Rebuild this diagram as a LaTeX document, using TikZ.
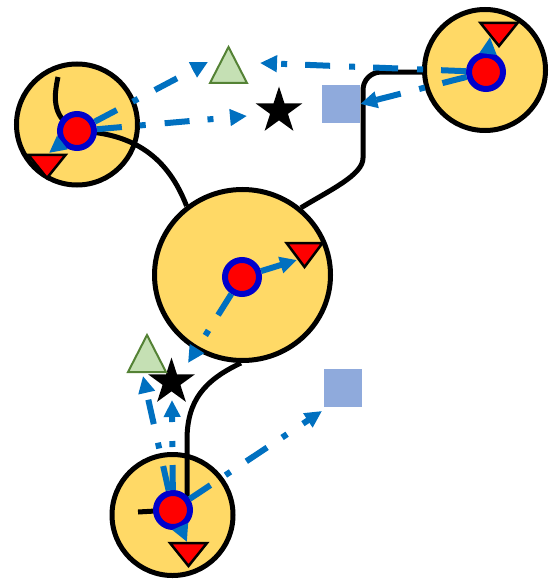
\documentclass[tikz,border=0pt]{standalone}
\usetikzlibrary{arrows.meta,shapes.geometric}
\definecolor{hubfill}{HTML}{FFD966}
\definecolor{linkblue}{HTML}{0070C0}
\definecolor{ringblue}{HTML}{0000CC}
\definecolor{boxblue}{HTML}{8FAADC}
\definecolor{leaffill}{HTML}{C5E0B4}
\definecolor{leafline}{HTML}{548235}
\begin{document}
\begin{tikzpicture}[x=1pt,y=-1pt,
  hub/.style={circle, draw=black, fill=hubfill, line width=5pt, inner sep=0pt, minimum size=121pt},
  core/.style={circle, draw=ringblue, fill=red, line width=6pt, inner sep=0pt, minimum size=34pt},
  wire/.style={draw=black, line width=5pt},
  link/.style={draw=linkblue, line width=6pt, -{Triangle[length=17pt,width=16pt]}},
  dashdot/.style={dash pattern=on 25pt off 18pt on 6pt off 19pt},
  flag/.style={fill=red, draw=black, line width=2.5pt, line join=miter},
  leaf/.style={fill=leaffill, draw=leafline, line width=2pt, line join=miter},
  starmark/.style={star, star points=5, star point ratio=2.618, fill=black, inner sep=0pt, minimum size=49pt},
  boxmark/.style={rectangle, fill=boxblue, inner sep=0pt, minimum size=38pt},
]
\useasboundingbox (0,0) rectangle (550,580);

% hubs
\node[hub] (hA) at (77,124.5) {};
\node[hub] (hB) at (485,70) {};
\node[hub, ellipse, minimum width=176pt, minimum height=171pt] (hC) at (242.5,275) {};
\node[hub] (hD) at (172.5,515) {};

% centres of the red cores
\coordinate (pA) at (77,131);
\coordinate (pB) at (486,72);
\coordinate (pC) at (242,277);
\coordinate (pD) at (173,510);
\coordinate (tailA) at (58,77);
\coordinate (tailD) at (138,512);
\coordinate (dropD) at (187,502);

% black wires
\draw[wire] (tailA) .. controls (53,100) and (53,118) .. (pA);
\draw[wire] (pA) .. controls (135,133) and (168,158) .. (hC.129);
\draw[wire, rounded corners=18pt] (hB.182) -- (363,72) -- (363,140)
  .. controls (363,175) and (330,190) .. (hC.49);
\draw[wire] (hC.-91) .. controls (205,380) and (187,400) .. (187,440) -- (dropD);
\draw[wire] (tailD) -- (pD);

% red cores
\node[core] (dA) at (pA) {};
\node[core] (dB) at (pB) {};
\node[core] (dC) at (pC) {};
\node[core] (dD) at (pD) {};

% targets
\coordinate (leafT) at (228.5,47);
\coordinate (leafB) at (147,335);
\node[starmark] (starT) at (279,111) {};
\node[starmark] (starB) at (171.5,382) {};
\node[boxmark] (boxT) at (341,104) {};
\node[boxmark] (boxB) at (342.5,388) {};
\coordinate (flagA) at (47,155);
\coordinate (flagB) at (499,23);
\coordinate (flagC) at (304.5,243);
\coordinate (flagD) at (188.5,543);

% arrow ends
\coordinate (leafT-w) at (208,62);
\coordinate (leafT-e) at (260,63);
\coordinate (leafB-s) at (143,376);
\coordinate (starT-w) at (247,116);
\coordinate (starB-ne) at (188,363);
\coordinate (starB-s) at (172,400);
\coordinate (boxB-sw) at (322,411);
\coordinate (flagA-in) at (49,153);
\coordinate (flagB-in) at (490,37);
\coordinate (flagC-in) at (297,260);
\coordinate (flagD-in) at (187,542);

% blue links
\draw[link, dashdot] (dA) -- (leafT-w);
\draw[link, dashdot] (dA) -- (starT-w);
\draw[link] (dA) -- (flagA-in);
\draw[link, dashdot] (dB) -- (leafT-e);
\draw[link, dashdot] (dB) -- (boxT.east);
\draw[link] (dB) -- (flagB-in);
\draw[link] (dC) -- (flagC-in);
\draw[link, dashdot] (dC) -- (starB-ne);
\draw[link, dashdot] (dD) -- (leafB-s);
\draw[link, dashdot] (dD) -- (starB-s);
\draw[link, dashdot] (dD) -- (boxB-sw);
\draw[link] (dD) -- (flagD-in);

% red flags
\draw[flag, shift={(flagA)}] (-18.5,0) -- (18.5,0) -- (0,23) -- cycle;
\draw[flag, shift={(flagB)}] (-18.5,0) -- (18.5,0) -- (0,23) -- cycle;
\draw[flag, shift={(flagC)}] (-18,0) -- (18,0) -- (0,24) -- cycle;
\draw[flag, shift={(flagD)}] (-18.5,0) -- (18.5,0) -- (0,23) -- cycle;

% green leaves
\draw[leaf, shift={(leafT)}] (0,0) -- (18.5,36) -- (-18.5,36) -- cycle;
\draw[leaf, shift={(leafB)}] (0,0) -- (19,37) -- (-19,37) -- cycle;
\end{tikzpicture}
\end{document}
